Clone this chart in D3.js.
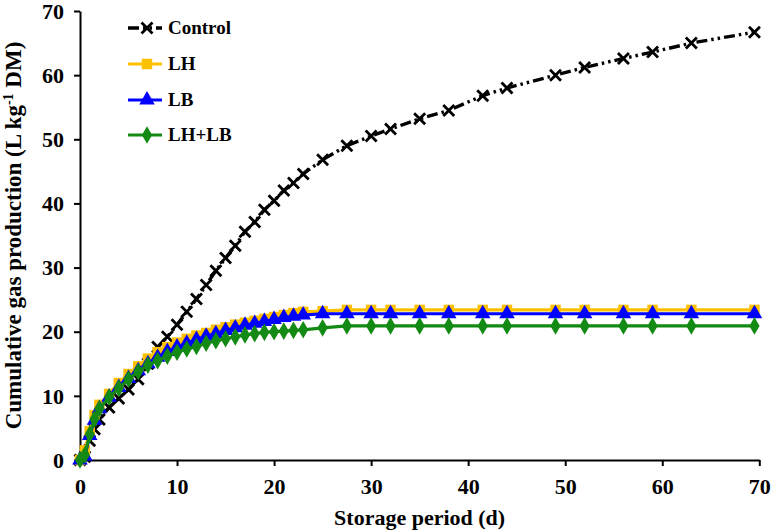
<!DOCTYPE html>
<html><head><meta charset="utf-8">
<script src="https://cdn.jsdelivr.net/npm/d3@7"></script>
<style>
html,body{margin:0;padding:0;background:#fff;}
text{font-family:"Liberation Serif","Times New Roman",serif;font-weight:bold;fill:#000;}
</style></head>
<body><svg id="c" width="772" height="531"></svg>
<script>
const days    = [0,0.5,1,1.5,2,3,4,5,6,7,8,9,10,11,12,13,14,15,16,17,18,19,20,21,22,23,25,27.5,30,32,35,38,41.5,44,49,52,56,59,63,69.5];
const control = [0,0.5,3.0,4.8,6.3,8.2,9.6,11.0,12.6,15.0,17.6,19.2,21.1,23.1,25.1,27.3,29.5,31.5,33.4,35.6,37.1,39.0,40.4,42.0,43.2,44.6,46.8,49.0,50.5,51.6,53.2,54.5,56.8,58.0,60.0,61.2,62.6,63.6,65.0,66.7];
const lh      = [0,1.5,4.5,7.0,8.6,10.3,12.0,13.4,14.6,15.8,16.8,17.6,18.3,18.9,19.4,19.8,20.3,20.7,21.1,21.4,21.7,22.0,22.3,22.6,22.9,23.1,23.2,23.4,23.4,23.4,23.4,23.4,23.4,23.4,23.4,23.4,23.4,23.4,23.4,23.4];
const lb      = [0,0.6,3.8,6.2,8.0,9.8,11.3,12.7,13.9,15.0,16.0,16.9,17.6,18.2,18.8,19.3,19.7,20.2,20.6,21.0,21.3,21.6,21.9,22.2,22.4,22.6,22.8,22.8,22.8,22.8,22.8,22.8,22.8,22.8,22.8,22.8,22.8,22.8,22.8,22.8];
const lhlb    = [0,0.8,4.0,6.4,8.0,9.8,11.2,12.6,13.8,14.8,15.5,16.2,16.8,17.3,17.7,18.2,18.6,18.9,19.2,19.5,19.7,19.9,20.0,20.1,20.2,20.3,20.6,20.9,20.9,20.9,20.9,20.9,20.9,20.9,20.9,20.9,20.9,20.9,20.9,20.9];
const seriesNames = ["Control","LH","LB","LH+LB"];
const xTicks = [0,10,20,30,40,50,60,70];
const yTicks = [0,10,20,30,40,50,60,70];

const svg = d3.select("#c");
const L=80, R=759.3, T=11, B=460;
const x = d3.scaleLinear().domain([0,70]).range([L,R]);
const y = d3.scaleLinear().domain([0,70]).range([B,T]);

const xa = svg.append("g").attr("transform",`translate(0,${B})`)
  .call(d3.axisBottom(x).tickValues(xTicks).tickSize(6).tickSizeOuter(0).tickPadding(9));
const ya = svg.append("g").attr("transform",`translate(${L},0)`)
  .call(d3.axisLeft(y).tickValues(yTicks).tickSize(6).tickSizeOuter(0).tickPadding(10));
[xa,ya].forEach(a=>{
  a.selectAll("path,line").attr("stroke","#000").attr("stroke-width",2);
  a.selectAll("text").style("font-size","22px").style("font-family","Liberation Serif").style("font-weight","bold");
});
xa.selectAll("text").attr("dy","0.85em");
ya.selectAll("text").attr("dy","0.33em");

svg.append("text").attr("x",(L+R)/2).attr("y",525).attr("text-anchor","middle")
  .style("font-size","22px").text("Storage period (d)");
const yt = svg.append("text").attr("transform",`translate(21,${(T+B)/2}) rotate(-90)`)
  .attr("text-anchor","middle").style("font-size","23px");
yt.append("tspan").text("Cumulative gas production (L kg");
yt.append("tspan").attr("dy","-8").style("font-size","14px").text("-1");
yt.append("tspan").attr("dy","8").text(" DM)");

const data = [
  {name:seriesNames[0], vals:control, color:"#000000", dash:"11,4,2.5,4,2.5,4", width:3.4, sym:"x"},
  {name:seriesNames[1], vals:lh, color:"#FFC000", dash:null, width:3.2, sym:"square"},
  {name:seriesNames[2], vals:lb, color:"#0000FF", dash:null, width:3.2, sym:"triangle"},
  {name:seriesNames[3], vals:lhlb, color:"#138A13", dash:null, width:3.2, sym:"diamond"}
];
const line = d3.line().x(d=>x(d[0])).y(d=>y(d[1]));

function drawMarker(g, sym, color, cx, cy){
  if(sym==="x"){
    const s=5.5;
    g.append("path").attr("d",`M${cx-s},${cy-s}L${cx+s},${cy+s}M${cx-s},${cy+s}L${cx+s},${cy-s}`)
      .attr("stroke",color).attr("stroke-width",2.8).attr("fill","none");
  } else {
    const sz = sym==="square"?110: sym==="triangle"?105:90;
    const st = sym==="square"?d3.symbolSquare: sym==="triangle"?d3.symbolTriangle:d3.symbolDiamond;
    g.append("path").attr("d",d3.symbol().type(st).size(sz)())
      .attr("transform",`translate(${cx},${cy})`).attr("fill",color);
  }
}

data.forEach(s=>{
  const pts = days.map((d,i)=>[d,s.vals[i]]);
  const g = svg.append("g");
  g.append("path").datum(pts).attr("d",line).attr("fill","none")
    .attr("stroke",s.color).attr("stroke-width",s.width)
    .attr("stroke-dasharray",s.dash);
  pts.forEach(p=>drawMarker(g,s.sym,s.color,x(p[0]),y(p[1])));
});

const legY=[28,64,100,135];
data.forEach((s,i)=>{
  const g=svg.append("g");
  const yy=legY[i];
  g.append("line").attr("x1",128).attr("x2",162).attr("y1",yy).attr("y2",yy)
    .attr("stroke",s.color).attr("stroke-width",s.width).attr("stroke-dasharray",s.dash);
  drawMarker(g,s.sym,s.color,147,yy);
  g.append("text").attr("x",168).attr("y",yy+6).style("font-size","19px").text(s.name);
});
</script></body></html>
